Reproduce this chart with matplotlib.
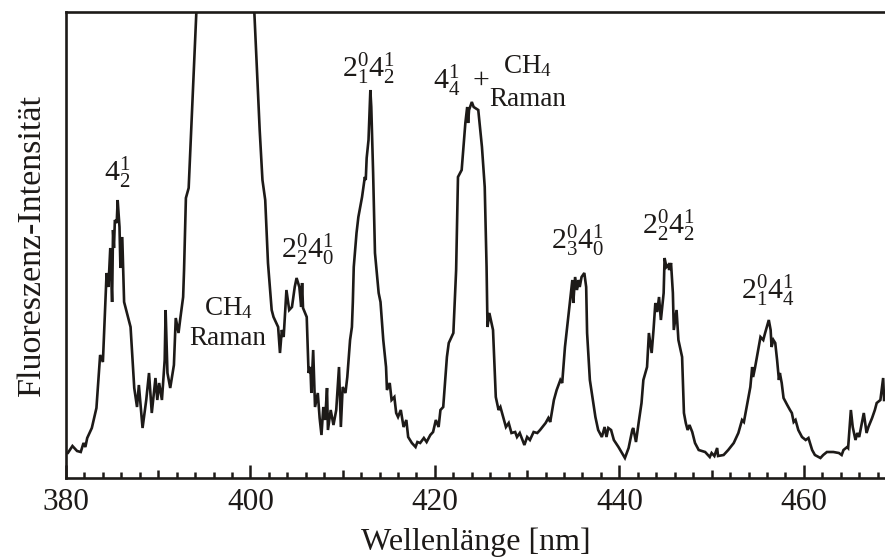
import matplotlib
matplotlib.use("Agg")
import matplotlib.pyplot as plt
from matplotlib.ticker import MultipleLocator, FuncFormatter

plt.rcParams['font.family'] = ['Liberation Serif', 'DejaVu Serif']
plt.rcParams['mathtext.fontset'] = 'custom'
plt.rcParams['mathtext.rm'] = 'Liberation Serif'
plt.rcParams['mathtext.it'] = 'Liberation Serif:italic'
plt.rcParams['mathtext.bf'] = 'Liberation Serif:bold'

# ---- data (wavelength in nm, intensity in arbitrary units) ----
wavelength = [
    380.0, 380.2, 380.7, 381.2, 381.6, 381.9, 382.1, 382.3, 382.8, 383.3,
    383.7, 384.0, 384.4, 384.6, 384.8, 385.0, 385.1, 385.2, 385.3, 385.5,
    385.6, 385.8, 385.9, 386.1, 386.3, 387.0, 387.4, 387.7, 387.9, 388.3,
    388.7, 389.0, 389.3, 389.7, 389.9, 390.1, 390.4, 390.7, 390.8, 391.0,
    391.3, 391.7, 391.9, 392.2, 392.4, 392.7, 392.8, 393.0, 393.3, 394.2,
    397.3, 400.35, 401.0, 401.3, 401.6, 401.9, 402.3, 402.5, 403.0, 403.2,
    403.4, 403.6, 403.9, 404.2, 404.5, 404.8, 405.0, 405.3, 405.5, 405.6,
    405.7, 406.1, 406.3, 406.5, 406.6, 406.8, 407.0, 407.3, 407.5, 407.7,
    407.9, 408.1, 408.3, 408.4, 408.7, 409.0, 409.3, 409.6, 409.8, 410.0,
    410.3, 410.5, 410.8, 411.0, 411.1, 411.2, 411.5, 411.7, 412.1, 412.4,
    412.5, 412.6, 412.8, 413.0, 413.1, 413.3, 413.5, 413.9, 414.1, 414.4,
    414.7, 414.8, 415.1, 415.3, 415.6, 415.8, 416.0, 416.3, 416.6, 416.9,
    417.1, 417.5, 417.9, 418.1, 418.4, 418.8, 419.1, 419.5, 419.8, 420.1,
    420.4, 420.6, 420.9, 421.2, 421.3, 421.5, 422.0, 422.3, 422.5, 422.9,
    423.3, 423.5, 423.6, 423.7, 424.0, 424.2, 424.7, 425.1, 425.4, 425.6,
    425.7, 425.9, 426.3, 426.6, 426.9, 427.1, 427.4, 427.7, 428.0, 428.3,
    428.7, 428.9, 429.2, 429.7, 430.0, 430.3, 430.7, 431.1, 431.4, 432.0,
    432.3, 432.5, 432.9, 433.2, 433.6, 433.8, 434.1, 434.5, 434.9, 435.0,
    435.2, 435.4, 435.6, 435.7, 435.9, 436.2, 436.4, 436.5, 436.8, 437.4,
    437.7, 438.1, 438.4, 438.6, 438.8, 439.1, 439.4, 439.9, 440.6, 441.0,
    441.4, 441.5, 441.8, 442.1, 442.4, 442.6, 443.0, 443.2, 443.5, 443.7,
    443.9, 444.1, 444.3, 444.5, 444.8, 444.9, 445.1, 445.3, 445.4, 445.6,
    445.8, 445.9, 446.2, 446.4, 446.8, 447.0, 447.2, 447.4, 447.6, 447.9,
    448.2, 448.6, 449.3, 449.8, 450.0, 450.3, 450.6, 450.7, 451.3, 451.8,
    452.4, 452.9, 453.3, 453.5, 453.8, 454.2, 454.4, 454.5, 454.7, 455.1,
    455.3, 455.6, 455.8, 456.2, 456.4, 456.5, 456.7, 456.9, 457.1, 457.3,
    457.4, 457.6, 457.8, 458.2, 458.5, 458.7, 458.9, 459.1, 459.4, 459.8,
    460.2, 460.5, 460.9, 461.2, 461.8, 462.1, 462.5, 463.2, 463.8, 464.1,
    464.3, 464.7, 464.8, 465.1, 465.3, 465.6, 465.8, 466.0, 466.5, 466.8,
    467.0, 467.4, 467.7, 467.9, 468.3, 468.6, 468.7,
]
intensity = [
    25, 25, 32, 27, 26, 35, 31, 40, 50, 70,
    123, 116, 205, 191, 230, 176, 248, 230, 258, 255,
    278, 251, 210, 241, 176, 151, 90, 71, 93, 50,
    78, 105, 65, 100, 78, 95, 78, 118, 168, 105,
    90, 113, 160, 145, 160, 181, 208, 280, 290, 480,
    1000, 480, 348, 298, 278, 215, 168, 161, 151, 125,
    148, 141, 188, 168, 171, 191, 200, 191, 171, 195,
    170, 161, 105, 111, 85, 128, 71, 85, 60, 43,
    71, 58, 90, 48, 68, 53, 68, 111, 51, 91,
    85, 101, 138, 151, 176, 211, 245, 261, 281, 301,
    298, 320, 338, 388, 371, 305, 225, 185, 176, 138,
    111, 88, 95, 78, 81, 65, 61, 68, 51, 58,
    41, 35, 31, 36, 35, 40, 36, 43, 46, 58,
    51, 68, 71, 108, 121, 135, 145, 208, 301, 308,
    355, 371, 355, 368, 376, 371, 368, 331, 291, 211,
    151, 165, 148, 81, 68, 71, 61, 51, 55, 45,
    46, 41, 45, 33, 41, 38, 46, 45, 48, 55,
    60, 56, 78, 88, 98, 95, 131, 165, 198, 175,
    201, 188, 198, 191, 201, 205, 191, 145, 98, 61,
    48, 41, 51, 41, 50, 48, 38, 31, 20, 30,
    48, 50, 36, 56, 75, 98, 111, 145, 125, 148,
    175, 166, 181, 158, 185, 220, 211, 213, 208, 215,
    185, 148, 168, 138, 121, 65, 55, 48, 53, 46,
    35, 28, 26, 21, 25, 22, 30, 22, 23, 28,
    35, 45, 58, 56, 71, 91, 111, 101, 110, 131,
    141, 138, 145, 158, 148, 131, 138, 135, 118, 98,
    105, 95, 80, 73, 68, 65, 56, 58, 48, 41,
    38, 40, 28, 23, 20, 23, 26, 26, 25, 23,
    28, 31, 30, 68, 51, 38, 45, 41, 65, 45,
    51, 60, 68, 75, 78, 100, 78,
]

x_tick_labels = ['380', '400', '420', '440', '460']

ink = '#1d1a18'

fig = plt.figure(figsize=(8.85, 5.6), dpi=100)
ax = fig.add_axes([66 / 885, 82 / 560, 1 - 66 / 885, 466 / 560])

ax.plot(wavelength, intensity, color=ink, lw=1.9, solid_joinstyle='miter')

ax.set_xlim(380, 468.8)
ax.set_ylim(0, 466)

for side in ['left', 'bottom', 'top']:
    ax.spines[side].set_linewidth(1.9)
    ax.spines[side].set_color(ink)
ax.spines['right'].set_visible(False)

ax.set_yticks([])
ax.xaxis.set_major_locator(MultipleLocator(10))
ax.xaxis.set_minor_locator(MultipleLocator(2))
labels_map = {int(t): t for t in x_tick_labels}
ax.xaxis.set_major_formatter(FuncFormatter(
    lambda v, p: labels_map.get(int(round(v)), '') if abs(v - round(v)) < 1e-6 else ''))
ax.tick_params(axis='x', which='major', direction='in', length=6, width=1.8,
               color=ink, labelsize=22.5, pad=7, labelcolor=ink, top=False)
ax.tick_params(axis='x', which='minor', direction='in', length=4.3, width=1.8,
               color=ink, top=False)
fig.canvas.draw()
for t, loc in zip(ax.xaxis.get_major_ticks(), ax.get_xticks()):
    if abs(loc % 20) < 1e-6:
        t.tick1line.set_markersize(9.4)

ax.set_xlabel('Wellenlänge [nm]', fontsize=23, color=ink, labelpad=8)
ax.set_ylabel('Fluoreszenz-Intensität', fontsize=24.5, color=ink, labelpad=14)

fs = 21.5
tk = dict(ha='center', va='baseline', color=ink, fontsize=fs)
ax.text(385.5, 298, r'$4^1_2$', **tk)
ax.text(397.6, 163, r'CH$_4$', ha='center', va='baseline', color=ink, fontsize=19.5)
ax.text(397.5, 133, 'Raman', ha='center', va='baseline', color=ink, fontsize=19.5)
ax.text(406.2, 221, r'$2^0_2 4^1_0$', **tk)
ax.text(412.8, 402, r'$2^0_1 4^1_2$', **tk)
ax.text(422.9, 390, r'$4^1_4\;$ +', **tk)
ax.text(430.1, 405, r'CH$_4$', ha='center', va='baseline', color=ink, fontsize=19.5)
ax.text(430.1, 372, 'Raman', ha='center', va='baseline', color=ink, fontsize=19.5)
ax.text(435.5, 230, r'$2^0_3 4^1_0$', **tk)
ax.text(445.3, 245, r'$2^0_2 4^1_2$', **tk)
ax.text(456.1, 180, r'$2^0_1 4^1_4$', **tk)

fig.savefig('out.png', dpi=100)
